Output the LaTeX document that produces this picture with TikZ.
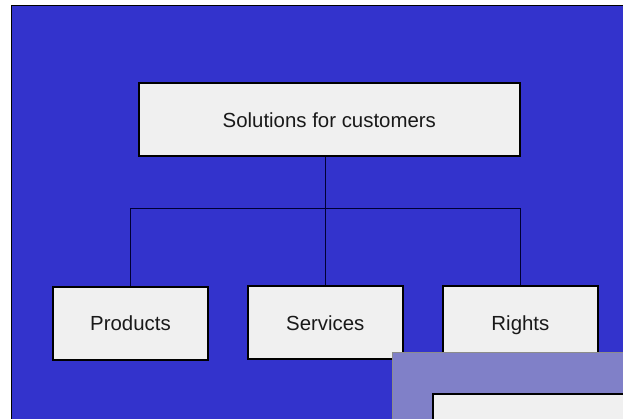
\documentclass[tikz,border=0pt]{standalone}
\usepackage{fontspec}
\setmainfont{Liberation Sans}
\definecolor{slideblue}{RGB}{51,51,204}
\definecolor{boxgrey}{RGB}{240,240,240}
\definecolor{panelblue}{RGB}{128,128,200}
\tikzset{
  orgbox/.style={draw=black, line width=2pt, fill=boxgrey, minimum height=73pt,
    font=\fontsize{20.4}{24}\selectfont, text=black!90,
    text height=15pt, text depth=0.4pt},
  link/.style={draw=black!80!blue, line width=1pt}
}
\begin{document}
\begin{tikzpicture}[x=1pt,y=-1pt]
      \useasboundingbox (0,0) rectangle (623,418);
      \fill[white] (0,0) rectangle (623,418);
      \draw[fill=slideblue, line width=1pt] (11,5.5) rectangle (640,440);
      \node[orgbox, minimum width=381.5pt] (top) at (329.3,119.8) {Solutions for customers};
      \node[orgbox, minimum width=155.8pt] (prod) at (130.5,323.2) {Products};
      \node[orgbox, minimum width=155.3pt] (serv) at (325.3,322.7) {Services};
      \node[orgbox, minimum width=155.2pt] (rights) at (520.4,322.7) {Rights};
      \coordinate (bus) at (325.3,208.7);
      \begin{scope}[link]
        \draw (serv.north) -- (serv.north |- top.south);
        \draw (prod.north) |- (bus) -| (rights.north);
      \end{scope}
      \draw[fill=panelblue, draw=black!45, line width=0.8pt] (392.5,352) rectangle (640,440);
      \draw[fill=boxgrey, line width=2pt] (432.5,393.5) rectangle (640,440);
    \end{tikzpicture}
\end{document}
